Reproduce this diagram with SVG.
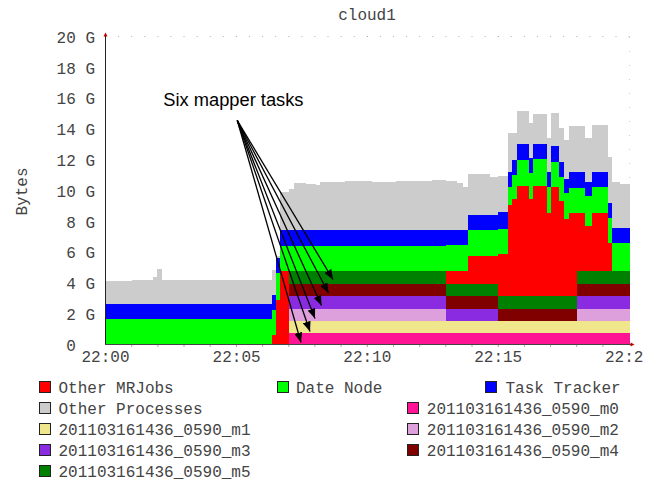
<svg xmlns="http://www.w3.org/2000/svg" width="656" height="481" viewBox="0 0 656 481">
  <defs>
    <style>
      .mono { font-family: "Liberation Mono", "Courier New", monospace; font-size: 16px; fill: #444; }
      .sw { stroke: #222; stroke-width: 1; }
      .area { shape-rendering: crispEdges; }
      .arrow { stroke: #000; stroke-width: 1.3; fill: none; marker-end: url(#ah); }
    </style>
    <marker id="ah" markerUnits="userSpaceOnUse" markerWidth="10" markerHeight="8" refX="10" refY="4" orient="auto">
      <path d="M0,0 L10,4 L0,8 Z" fill="#000"/>
    </marker>
  </defs>
  <rect width="656" height="481" fill="#fff"/>

  <text class="mono" x="367" y="20" text-anchor="middle">cloud1</text>

  <!-- grid -->
  <g id="grid">
    <line x1="105" y1="36.5" x2="630" y2="36.5" stroke="#b0b0b0" stroke-dasharray="1 12.09"/>
    <g fill="#d99">
      <rect x="236" y="36" width="1" height="1"/>
      <rect x="367" y="36" width="1" height="1"/>
      <rect x="498" y="36" width="1" height="1"/>
    </g>
    <line x1="629.5" y1="37" x2="629.5" y2="344" stroke="#e8c0c0" stroke-dasharray="1 13"/>
  </g>

  <!-- stacked areas -->
  <g id="series" class="area">
    <path id="other-processes" fill="#CCCCCC" d="M105.5,344.5 V280.5 H131.5 V279.5 H137 V280.3 H153.3 V276.7 H157.3 V269.3 H162.3 V280.3 H232 V279.5 H240 V280.3 H271.7 V270 H276 V256 H280.3 V192 H288.7 V189 H293.5 V182.5 H306 V183.5 H316 V185 H320 V182 H328 V181.5 H345 V181 H372 V182 H396 V181 H418 V180.5 H432 V180 H445.7 V180.7 H456.7 V183.3 H463.3 V186.7 H468.3 V174 H490 V177 H498.3 V176 H507.7 V133 H516.7 V111 H529.3 V123 H533.3 V114 H546.7 V138 H550.5 V113 H559.3 V127.7 H564.3 V140 H569 V125.7 H585.3 V138 H591.5 V125 H607.5 V156.7 H611.7 V182 H620 V183.5 H630 V344.5 Z"/>
    <path id="task-tracker" fill="#0000FF" d="M105.5,344.5 V304.3 H271.7 V295 H276 V257.5 H280.3 V230 H468.3 V215 H498.3 V212.3 H507.7 V172 H511.7 V160 H516.7 V144 H529.3 V158 H533.3 V144 H546.7 V172 H550.5 V145.7 H559.3 V161.7 H564.3 V179 H569 V172 H585.3 V182 H591.5 V172 H607.5 V203 H611.7 V228.3 H630 V344.5 Z"/>
    <path id="date-node" fill="#00FF00" d="M105.5,344.5 V319 H271.7 V310 H276 V272.5 H280.3 V246 H445.7 V245 H468.3 V230 H498.3 V229 H507.7 V187 H511.7 V175 H516.7 V160 H529.3 V173 H533.3 V159 H546.7 V187 H550.5 V161.7 H559.3 V176.7 H564.3 V193 H569 V188 H585.3 V196 H591.5 V187 H607.5 V218 H611.7 V243.3 H630 V344.5 Z"/>
    <path id="other-mrjobs" fill="#FF0000" d="M271.7,344.5 V335.3 H276 V300 H280.3 V271.3 H468.3 V256 H498.3 V254 H507.7 V205 H511.7 V199 H516.7 V185.5 H529.3 V199 H533.3 V186 H546.7 V213 H550.5 V187 H559.3 V201 H564.3 V219 H569 V213 H585.3 V226 H591.5 V212.5 H607.5 V243 H611.7 V271.3 H630 V344.5 Z"/>
    <g id="m0" fill="#FF1493">
      <rect x="288.7" y="333.3" width="341.3" height="11.2"/>
    </g>
    <g id="m1" fill="#F0E68C">
      <rect x="288.7" y="321" width="341.3" height="12.3"/>
    </g>
    <g id="m2" fill="#DDA0DD">
      <rect x="288.7" y="308.6" width="157" height="12.4"/>
      <rect x="576.7" y="308.6" width="53.3" height="12.4"/>
    </g>
    <g id="m3" fill="#8A2BE2">
      <rect x="288.7" y="296.2" width="157" height="12.4"/>
      <rect x="445.7" y="308.6" width="52.6" height="12.4"/>
      <rect x="576.7" y="296.2" width="53.3" height="12.4"/>
    </g>
    <g id="m4" fill="#800000">
      <rect x="288.7" y="283.7" width="157" height="12.5"/>
      <rect x="445.7" y="296.2" width="52.6" height="12.4"/>
      <rect x="498.3" y="308.6" width="78.4" height="12.4"/>
      <rect x="576.7" y="283.7" width="53.3" height="12.5"/>
    </g>
    <g id="m5" fill="#008000">
      <rect x="288.7" y="271.3" width="157" height="12.4"/>
      <rect x="445.7" y="283.7" width="52.6" height="12.5"/>
      <rect x="498.3" y="296.2" width="78.4" height="12.4"/>
      <rect x="576.7" y="271.3" width="53.3" height="12.4"/>
    </g>
  </g>

  <!-- axes -->
  <g id="axes">
    <line x1="105.5" y1="36" x2="105.5" y2="345" stroke="#222"/>
    <line x1="105" y1="344.5" x2="631" y2="344.5" stroke="#444"/>
    <polygon points="105.5,32.5 103.5,36.5 107.5,36.5" fill="#b00"/>
    <polygon points="634.5,344.5 630.5,342.5 630.5,346.5" fill="#b00"/>
    <path stroke="#aaa" d="M131.7,345 v2 M157.9,345 v2 M184,345 v2 M210.2,345 v2 M262.6,345 v2 M288.8,345 v2 M314.9,345 v2 M341.1,345 v2 M393.5,345 v2 M419.7,345 v2 M445.8,345 v2 M472,345 v2 M524.4,345 v2 M550.6,345 v2 M576.7,345 v2 M602.9,345 v2"/>
    <path stroke="#c88" d="M236.4,345 v2 M367.3,345 v2 M498.2,345 v2"/>
  </g>

  <!-- axis labels -->
  <g id="y-labels" class="mono" text-anchor="end">
    <text x="95" y="42.7">20 G</text>
    <text x="95" y="73.5">18 G</text>
    <text x="95" y="104.3">16 G</text>
    <text x="95" y="135.1">14 G</text>
    <text x="95" y="165.9">12 G</text>
    <text x="95" y="196.7">10 G</text>
    <text x="95" y="227.5">8 G</text>
    <text x="95" y="258.3">6 G</text>
    <text x="95" y="289.1">4 G</text>
    <text x="95" y="319.9">2 G</text>
    <text x="75.8" y="350.7">0</text>
  </g>
  <g id="x-labels" class="mono" text-anchor="middle">
    <text x="105.5" y="361.5">22:00</text>
    <text x="236.6" y="361.5">22:05</text>
    <text x="367.3" y="361.5">22:10</text>
    <text x="498.2" y="361.5">22:15</text>
    <text x="605" y="361.5" text-anchor="start">22:2</text>
  </g>
  <text class="mono" transform="translate(26.5,191.5) rotate(-90)" text-anchor="middle">Bytes</text>

  <!-- annotation -->
  <g id="label-six-mapper-tasks">
    <text x="163.3" y="106" font-family="Liberation Sans, Arial, sans-serif" font-size="18.3" fill="#000">Six mapper tasks</text>
  </g>
  <g id="connectors">
    <line class="arrow" x1="237.3" y1="120.5" x2="301" y2="342.5"/>
    <line class="arrow" x1="237.3" y1="120.5" x2="310" y2="331.5"/>
    <line class="arrow" x1="237.3" y1="120.5" x2="315" y2="318.5"/>
    <line class="arrow" x1="237.3" y1="120.5" x2="321.5" y2="305.5"/>
    <line class="arrow" x1="237.3" y1="120.5" x2="328.5" y2="293"/>
    <line class="arrow" x1="237.3" y1="120.5" x2="333" y2="279.5"/>
  </g>

  <!-- legend -->
  <g id="legend" class="mono">
    <g id="legend-other-mrjobs"><rect class="sw" x="39.5" y="381.5" width="11" height="11" fill="#FF0000"/><text x="58.5" y="393.3">Other MRJobs</text></g>
    <g id="legend-date-node"><rect class="sw" x="277.5" y="381.5" width="11" height="11" fill="#00FF00"/><text x="296" y="393.3">Date Node</text></g>
    <g id="legend-task-tracker"><rect class="sw" x="485.5" y="381.5" width="11" height="11" fill="#0000FF"/><text x="505.5" y="393.3">Task Tracker</text></g>
    <g id="legend-other-processes"><rect class="sw" x="39.5" y="402.5" width="11" height="11" fill="#CCCCCC"/><text x="58.5" y="414.3">Other Processes</text></g>
    <g id="legend-m0"><rect class="sw" x="407.5" y="402.5" width="11" height="11" fill="#FF1493"/><text x="426.8" y="414.3">201103161436_0590_m0</text></g>
    <g id="legend-m1"><rect class="sw" x="39.5" y="423.5" width="11" height="11" fill="#F0E68C"/><text x="58.5" y="435.3">201103161436_0590_m1</text></g>
    <g id="legend-m2"><rect class="sw" x="407.5" y="423.5" width="11" height="11" fill="#DDA0DD"/><text x="426.8" y="435.3">201103161436_0590_m2</text></g>
    <g id="legend-m3"><rect class="sw" x="39.5" y="444.5" width="11" height="11" fill="#8A2BE2"/><text x="58.5" y="456.3">201103161436_0590_m3</text></g>
    <g id="legend-m4"><rect class="sw" x="407.5" y="444.5" width="11" height="11" fill="#800000"/><text x="426.8" y="456.3">201103161436_0590_m4</text></g>
    <g id="legend-m5"><rect class="sw" x="39.5" y="465.5" width="11" height="11" fill="#008000"/><text x="58.5" y="477.3">201103161436_0590_m5</text></g>
  </g>
</svg>
